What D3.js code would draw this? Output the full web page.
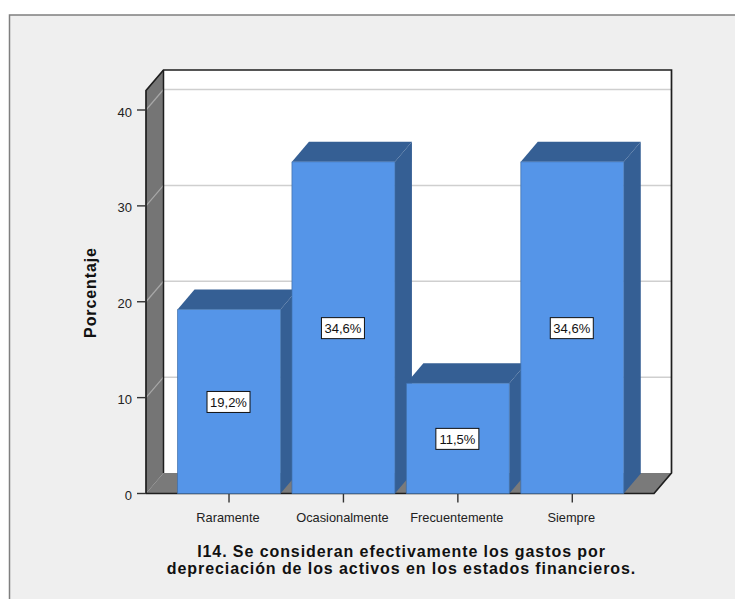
<!DOCTYPE html>
<html>
<head>
<meta charset="utf-8">
<script src="https://cdn.jsdelivr.net/npm/d3@7/dist/d3.min.js"></script>
<style>
html,body{margin:0;padding:0;background:#fff;overflow:hidden}
text{font-family:"Liberation Sans",Arial,sans-serif}
</style>
</head>
<body>
<svg id="chart" width="735" height="599"></svg>
<script>
const categories = ["Raramente", "Ocasionalmente", "Frecuentemente", "Siempre"];
const percentages = [19.2, 34.6, 11.5, 34.6];
const percentLabels = ["19,2%", "34,6%", "11,5%", "34,6%"];
const yTicks = [0, 10, 20, 30, 40];
const titleLines = ["I14. Se consideran efectivamente los gastos por", "depreciación de los activos en los estados financieros."];

const svg = d3.select("#chart");
const depthX = 17.5, depthY = 20.5;
const barDepthX = 17, barDepthY = 20;
const left = 146, right = 654, base = 493.5;
const y = d3.scaleLinear().domain([0, 40]).range([base, 110]);
const yTop = y.invert(70 + depthY);
const x = d3.scaleBand().domain(categories).range([171.8, 629.5]).paddingInner(0.1).paddingOuter(0.05);

const poly = (pts, fill, stroke, sw) => svg.append("polygon")
  .attr("points", pts.map(p => p.join(",")).join(" "))
  .attr("fill", fill).attr("stroke", stroke || "none").attr("stroke-width", sw || 0)
  .attr("stroke-linejoin", "round");

// Chart panel
svg.append("rect").attr("x", 9.5).attr("y", 15).attr("width", 740).attr("height", 600)
  .attr("fill", "#efefef").attr("stroke", "#7f7f7f").attr("stroke-width", 1.5);

// Back wall
const backL = left + depthX, backR = right + depthX;
poly([[backL, y(yTop) - depthY], [backR, y(yTop) - depthY], [backR, base - depthY], [backL, base - depthY]], "#fff");

// Side wall and floor
poly([[left, base], [left, y(yTop)], [backL, y(yTop) - depthY], [backL, base - depthY]], "#757575");
poly([[left, base], [backL, base - depthY], [backR, base - depthY], [right, base]], "#7a7a7a");

// Gridlines: lighter where they cross the side wall
yTicks.filter(d => d > 0).forEach(d => {
  svg.append("line").attr("x1", left).attr("y1", y(d)).attr("x2", backL).attr("y2", y(d) - depthY)
    .attr("stroke", "#a8a8a8").attr("stroke-width", 1.2);
  svg.append("line").attr("x1", backL).attr("y1", y(d) - depthY).attr("x2", backR).attr("y2", y(d) - depthY)
    .attr("stroke", "#cfcfcf").attr("stroke-width", 1.5);
});

// Wall outlines
svg.append("path")
  .attr("d", d3.line()([[left, base], [left, y(yTop)], [backL, y(yTop) - depthY], [backR, y(yTop) - depthY], [backR, base - depthY], [right, base], [left, base]]))
  .attr("fill", "none").attr("stroke", "#1e1e1e").attr("stroke-width", 1.7);
svg.append("line").attr("x1", backL).attr("x2", backL).attr("y1", y(yTop) - depthY).attr("y2", base - depthY)
  .attr("stroke", "#1e1e1e").attr("stroke-width", 1.5);

// Y axis
svg.selectAll("line.ytick").data(yTicks).join("line").attr("class", "ytick")
  .attr("x1", left - 9).attr("x2", left).attr("y1", d => y(d)).attr("y2", d => y(d))
  .attr("stroke", "#333").attr("stroke-width", 1.4);
svg.selectAll("text.ylab").data(yTicks).join("text").attr("class", "ylab")
  .attr("x", left - 14).attr("y", d => y(d) + 6.5).attr("text-anchor", "end")
  .attr("font-size", 13).attr("fill", "#222").text(d => d);
svg.append("text").attr("transform", "translate(96,292.5) rotate(-90)")
  .attr("text-anchor", "middle").attr("font-size", 16).attr("font-weight", "bold")
  .attr("letter-spacing", 0.9).attr("fill", "#111").text("Porcentaje");

// X axis
categories.forEach(c => {
  const cx = x(c) + x.bandwidth() / 2;
  svg.append("line").attr("x1", cx).attr("x2", cx).attr("y1", base).attr("y2", base + 9)
    .attr("stroke", "#333").attr("stroke-width", 1.4);
  svg.append("text").attr("x", cx - 1).attr("y", 522).attr("text-anchor", "middle")
    .attr("font-size", 12.8).attr("fill", "#222").text(c);
});

// Bars, painted left to right so each one overlaps the previous bar's side
const edge = "#3f6ea6";
categories.forEach((c, i) => {
  const x0 = x(c), x1 = x0 + x.bandwidth(), top = y(percentages[i]);
  poly([[x1, base], [x1, top], [x1 + barDepthX, top - barDepthY], [x1 + barDepthX, base - barDepthY]], "#355f94");
  poly([[x0, top], [x0 + barDepthX, top - barDepthY], [x1 + barDepthX, top - barDepthY], [x1, top]], "#355f94");
  poly([[x0, base], [x0, top], [x1, top], [x1, base]], "#5595e8", edge, 0.7);
});

// Value labels centred on each bar's front face
categories.forEach((c, i) => {
  const cx = x(c) + x.bandwidth() / 2 - 0.5, cy = (y(percentages[i]) + base) / 2 + 0.5;
  svg.append("rect").attr("x", cx - 21.5).attr("y", cy - 10.5).attr("width", 43).attr("height", 21)
    .attr("fill", "#fff").attr("stroke", "#111").attr("stroke-width", 1);
  svg.append("text").attr("x", cx).attr("y", cy + 5).attr("text-anchor", "middle")
    .attr("font-size", 13).attr("fill", "#111").text(percentLabels[i]);
});

// Axis title
titleLines.forEach((t, i) => {
  svg.append("text").attr("x", 401.5).attr("y", 557 + i * 17).attr("text-anchor", "middle")
    .attr("font-size", 16).attr("font-weight", "bold").attr("letter-spacing", 0.92)
    .attr("fill", "#111").text(t);
});
</script>
</body>
</html>
